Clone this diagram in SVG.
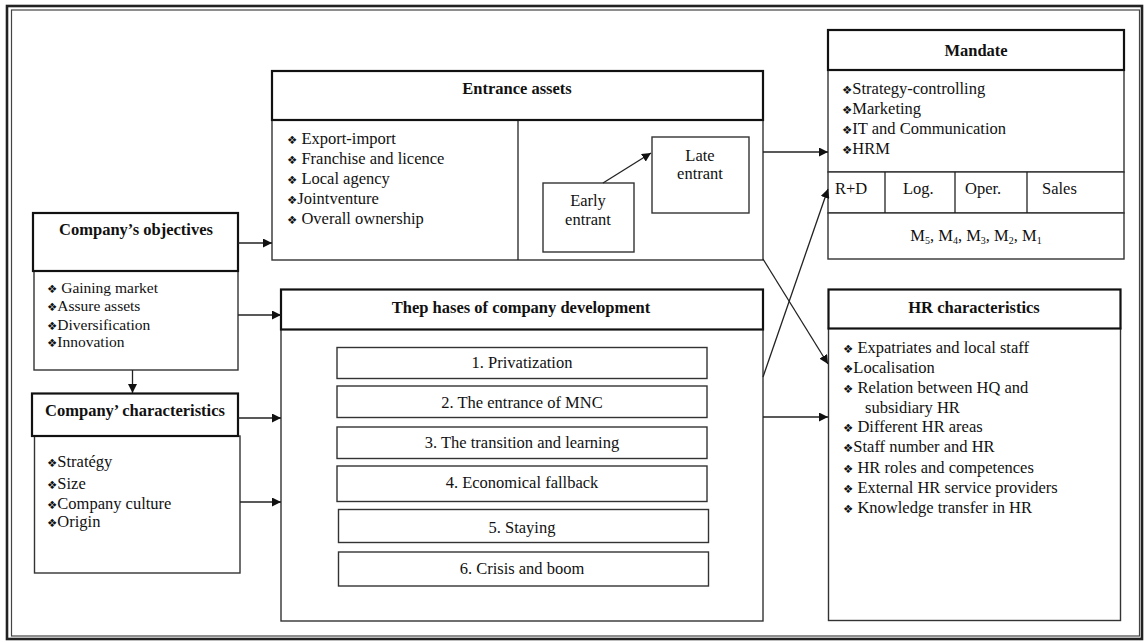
<svg xmlns="http://www.w3.org/2000/svg" width="1145" height="642" viewBox="0 0 1145 642" font-family="'Liberation Serif', 'Times New Roman', 'DejaVu Serif', serif">
<defs>
<marker id="ah" markerUnits="userSpaceOnUse" markerWidth="10" markerHeight="9" refX="9" refY="4.5" orient="auto">
<path d="M0,0 L9,4.5 L0,9 Z" fill="#111"/>
</marker>
<style>
text{fill:#111;}
.t{font-size:16.5px;font-weight:bold;text-anchor:middle;}
.b{font-size:16.5px;}
.s{font-size:15.5px;}
.c{text-anchor:middle;}
.bu{font-size:11.5px;}
.hd{fill:#fff;stroke:#111;stroke-width:2.2;}
.bd{fill:#fff;stroke:#333;stroke-width:1.4;}
.ln{fill:none;stroke:#222;stroke-width:1.3;}
</style>
</defs>
<rect width="1145" height="642" fill="#fff"/>
<g id="frame">
<rect x="7" y="6" width="1135" height="633" fill="none" stroke="#222" stroke-width="2.6"/>
<rect x="11.5" y="10" width="1128" height="626" fill="none" stroke="#444" stroke-width="1.2"/>
</g>
<g id="entrance-assets">
<rect class="bd" x="272" y="120" width="491" height="140"/>
<line class="ln" x1="518" y1="120" x2="518" y2="260"/>
<rect class="hd" x="272" y="71" width="491" height="49"/>
<text class="t" x="517" y="94">Entrance assets</text>
<text class="b" x="287" y="143.5"><tspan class="bu" font-family="'DejaVu Sans', sans-serif">❖</tspan> Export-import</text>
<text class="b" x="287" y="163.5"><tspan class="bu" font-family="'DejaVu Sans', sans-serif">❖</tspan> Franchise and licence</text>
<text class="b" x="287" y="183.5"><tspan class="bu" font-family="'DejaVu Sans', sans-serif">❖</tspan> Local agency</text>
<text class="b" x="287" y="203.5"><tspan class="bu" font-family="'DejaVu Sans', sans-serif">❖</tspan>Jointventure</text>
<text class="b" x="287" y="223.5"><tspan class="bu" font-family="'DejaVu Sans', sans-serif">❖</tspan> Overall ownership</text>
</g>
<g id="early-entrant">
<rect class="bd" x="543" y="183" width="91" height="69"/>
<text class="b c" x="588" y="205.5">Early</text>
<text class="b c" x="588" y="224.5">entrant</text>
</g>
<g id="late-entrant">
<rect class="bd" x="652" y="137" width="97" height="76"/>
<text class="b c" x="700" y="160.5">Late</text>
<text class="b c" x="700" y="178.5">entrant</text>
</g>
<g id="mandate">
<rect class="bd" x="828" y="70" width="296" height="102"/>
<rect class="bd" x="828" y="172" width="296" height="41"/>
<rect class="bd" x="828" y="213" width="296" height="46"/>
<line class="ln" x1="885" y1="172" x2="885" y2="213"/>
<line class="ln" x1="955" y1="172" x2="955" y2="213"/>
<line class="ln" x1="1027" y1="172" x2="1027" y2="213"/>
<rect class="hd" x="828" y="30" width="296" height="40"/>
<text class="t" x="976" y="55.5">Mandate</text>
<text class="b" x="842" y="93.5" font-size="17"><tspan class="bu" font-family="'DejaVu Sans', sans-serif">❖</tspan>Strategy-controlling</text>
<text class="b" x="842" y="113.5" font-size="17"><tspan class="bu" font-family="'DejaVu Sans', sans-serif">❖</tspan>Marketing</text>
<text class="b" x="842" y="133.5" font-size="17"><tspan class="bu" font-family="'DejaVu Sans', sans-serif">❖</tspan>IT and Communication</text>
<text class="b" x="842" y="153.5" font-size="17"><tspan class="bu" font-family="'DejaVu Sans', sans-serif">❖</tspan>HRM</text>
<text class="b" x="835" y="193.5">R+D</text>
<text class="b" x="903" y="193.5">Log.</text>
<text class="b" x="965" y="193.5">Oper.</text>
<text class="b" x="1042" y="193.5">Sales</text>
<text class="b c" x="976" y="241">M<tspan font-size="10" dy="3">5</tspan><tspan dy="-3">, M</tspan><tspan font-size="10" dy="3">4</tspan><tspan dy="-3">, M</tspan><tspan font-size="10" dy="3">3</tspan><tspan dy="-3">, M</tspan><tspan font-size="10" dy="3">2</tspan><tspan dy="-3">, M</tspan><tspan font-size="10" dy="3">1</tspan></text>
</g>
<g id="company-objectives">
<rect class="bd" x="34" y="271" width="204" height="99"/>
<rect class="hd" x="33" y="213" width="205" height="58"/>
<text class="t" x="136" y="235" font-size="17">Company’s objectives</text>
<text class="s" x="47" y="292.5"><tspan class="bu" font-family="'DejaVu Sans', sans-serif">❖</tspan> Gaining market</text>
<text class="s" x="47" y="311"><tspan class="bu" font-family="'DejaVu Sans', sans-serif">❖</tspan>Assure assets</text>
<text class="s" x="47" y="329.5"><tspan class="bu" font-family="'DejaVu Sans', sans-serif">❖</tspan>Diversification</text>
<text class="s" x="47" y="347"><tspan class="bu" font-family="'DejaVu Sans', sans-serif">❖</tspan>Innovation</text>
</g>
<g id="company-characteristics">
<rect class="bd" x="34.5" y="436" width="205.5" height="137"/>
<rect class="hd" x="32" y="393.5" width="206" height="42.5"/>
<text class="t" x="135" y="416" font-size="15.5">Company’ characteristics</text>
<text class="b" x="47" y="467"><tspan class="bu" font-family="'DejaVu Sans', sans-serif">❖</tspan>Stratégy</text>
<text class="b" x="47" y="488.5"><tspan class="bu" font-family="'DejaVu Sans', sans-serif">❖</tspan>Size</text>
<text class="b" x="47" y="508.5"><tspan class="bu" font-family="'DejaVu Sans', sans-serif">❖</tspan>Company culture</text>
<text class="b" x="47" y="526.5"><tspan class="bu" font-family="'DejaVu Sans', sans-serif">❖</tspan>Origin</text>
</g>
<g id="phases">
<rect class="bd" x="281" y="329" width="482" height="292"/>
<rect class="hd" x="281" y="289.5" width="482" height="40"/>
<text class="t" x="521" y="312.5">Thep hases of company development</text>
<rect class="bd" x="337" y="347.5" width="370" height="31"/>
<text class="b c" x="522" y="367.5">1. Privatization</text>
<rect class="bd" x="337" y="386" width="370" height="31.5"/>
<text class="b c" x="522" y="407.5">2.  The entrance of MNC</text>
<rect class="bd" x="337" y="427" width="370" height="31.5"/>
<text class="b c" x="522" y="447.5">3. The transition and learning</text>
<rect class="bd" x="337" y="466" width="370" height="35.5"/>
<text class="b c" x="522" y="487.5">4. Economical  fallback</text>
<rect class="bd" x="338.5" y="509.5" width="370" height="33"/>
<text class="b c" x="522" y="532.5">5. Staying</text>
<rect class="bd" x="338.5" y="552" width="370" height="34"/>
<text class="b c" x="522" y="574">6. Crisis and boom</text>
</g>
<g id="hr-characteristics">
<rect class="bd" x="828.5" y="328" width="292" height="292.5"/>
<rect class="hd" x="828.5" y="289.5" width="292" height="39"/>
<text class="t" x="974" y="313">HR characteristics</text>
<text class="b" x="843" y="352.5"><tspan class="bu" font-family="'DejaVu Sans', sans-serif">❖</tspan> Expatriates and local staff</text>
<text class="b" x="843" y="372.5"><tspan class="bu" font-family="'DejaVu Sans', sans-serif">❖</tspan>Localisation</text>
<text class="b" x="843" y="392.5"><tspan class="bu" font-family="'DejaVu Sans', sans-serif">❖</tspan> Relation between  HQ and</text>
<text class="b" x="865" y="412.5">subsidiary  HR</text>
<text class="b" x="843" y="431.5"><tspan class="bu" font-family="'DejaVu Sans', sans-serif">❖</tspan> Different HR areas</text>
<text class="b" x="843" y="451.5"><tspan class="bu" font-family="'DejaVu Sans', sans-serif">❖</tspan>Staff number  and HR</text>
<text class="b" x="843" y="472.5"><tspan class="bu" font-family="'DejaVu Sans', sans-serif">❖</tspan> HR roles and competences</text>
<text class="b" x="843" y="492.5"><tspan class="bu" font-family="'DejaVu Sans', sans-serif">❖</tspan> External  HR service  providers</text>
<text class="b" x="843" y="512.5"><tspan class="bu" font-family="'DejaVu Sans', sans-serif">❖</tspan> Knowledge  transfer in HR</text>
</g>
<g id="connectors">
<line class="ln" x1="603" y1="183" x2="651" y2="153" marker-end="url(#ah)"/>
<line class="ln" x1="763" y1="152" x2="828" y2="152" marker-end="url(#ah)"/>
<line class="ln" x1="763" y1="259" x2="828" y2="364" marker-end="url(#ah)"/>
<line class="ln" x1="763" y1="377" x2="828" y2="189" marker-end="url(#ah)"/>
<line class="ln" x1="763" y1="417" x2="828" y2="417" marker-end="url(#ah)"/>
<line class="ln" x1="238" y1="243" x2="272" y2="243" marker-end="url(#ah)"/>
<line class="ln" x1="238" y1="315" x2="281" y2="315" marker-end="url(#ah)"/>
<line class="ln" x1="132.5" y1="370" x2="132.5" y2="393" marker-end="url(#ah)"/>
<line class="ln" x1="238" y1="418" x2="281" y2="418" marker-end="url(#ah)"/>
<line class="ln" x1="240" y1="502" x2="281" y2="502" marker-end="url(#ah)"/>
</g>
</svg>
